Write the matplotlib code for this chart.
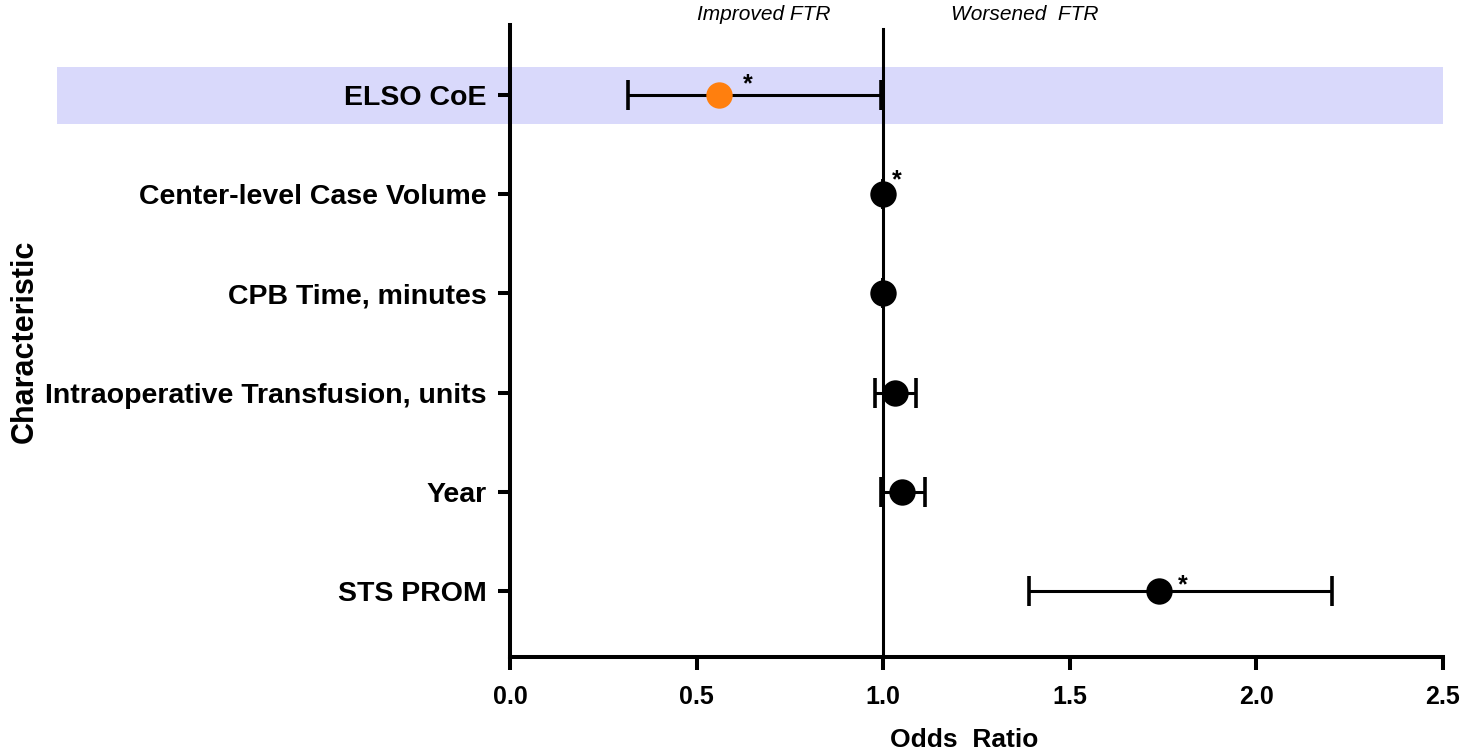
import matplotlib.pyplot as plt
from matplotlib.patches import Rectangle
from matplotlib.transforms import blended_transform_factory

plt.rcParams['font.family'] = ['Liberation Sans', 'DejaVu Sans']

# dados
characteristics = ['ELSO CoE', 'Center-level Case Volume', 'CPB Time, minutes',
                   'Intraoperative Transfusion, units', 'Year', 'STS PROM']
odds_ratio = [0.56, 1.0, 1.0, 1.032, 1.05, 1.74]
ci_low = [0.315, 1.0, 1.0, 0.979, 0.995, 1.391]
ci_high = [0.995, 1.0, 1.0, 1.088, 1.113, 2.204]
significant = [True, True, False, False, False, True]
point_colors = ['#ff7f0e', 'black', 'black', 'black', 'black', 'black']
star_offsets = [(21, 8), (10, 10), (0, 0), (0, 0), (0, 0), (17, 4)]

fig = plt.figure(figsize=(14.67, 7.56), dpi=100)
ax = fig.add_axes([0.3477, 0.131, 0.9836 - 0.3477, 0.836])
ax.set_zorder(1)

ypos = list(range(len(characteristics)))

# faixa de destaque para a primeira linha (estende-se ate os rotulos)
trans = blended_transform_factory(fig.transFigure, ax.transData)
band = Rectangle((0.0389, -0.285), 0.9836 - 0.0389, 0.575, transform=trans,
                 facecolor='#d9d9fb', edgecolor='none', zorder=-1, clip_on=False)
fig.patches.append(band)

# linha de referencia OR = 1
ax.plot([1, 1], [-0.67, 5.665], color='black', lw=2.2, zorder=2, clip_on=False)

for i, y in enumerate(ypos):
    ax.errorbar(odds_ratio[i], y, xerr=[[odds_ratio[i] - ci_low[i]], [ci_high[i] - odds_ratio[i]]],
                fmt='none', ecolor='black', elinewidth=2.2, capsize=11, capthick=2.6, zorder=3)
    ax.plot(odds_ratio[i], y, 'o', color=point_colors[i], markersize=19, mec='none', zorder=4)
    if significant[i]:
        ax.annotate('*', (odds_ratio[i], y), xytext=star_offsets[i], textcoords='offset points',
                    ha='center', va='center', fontsize=18, fontweight='bold', zorder=5)

ax.set_xlim(0, 2.5)
ax.set_ylim(5.665, -0.706)
ax.set_xticks([0.0, 0.5, 1.0, 1.5, 2.0, 2.5])
ax.set_xticklabels(['0.0', '0.5', '1.0', '1.5', '2.0', '2.5'], fontsize=18, fontweight='bold')
ax.set_yticks(ypos)
ax.set_yticklabels(characteristics, fontsize=20.5, fontweight='bold')

ax.patch.set_alpha(0)
for side in ['top', 'right']:
    ax.spines[side].set_visible(False)
for side in ['left', 'bottom']:
    ax.spines[side].set_linewidth(2.9)

ax.tick_params(axis='both', which='major', direction='out', length=9, width=2.9)
ax.tick_params(axis='x', pad=11)
ax.tick_params(axis='y', pad=8)

ax.set_xlabel('Odds  Ratio', fontsize=19, fontweight='bold')
ax.xaxis.set_label_coords((964 - 510) / (1443 - 510), -0.113)
fig.text(25 / 1467, 1 - 341 / 756, 'Characteristic', rotation=90, ha='center', va='center',
         fontsize=22, fontweight='bold')

fig.text(764 / 1467, 1 - 15 / 756, 'Improved FTR', ha='center', va='center',
         fontsize=15, style='italic')
fig.text(1025 / 1467, 1 - 15 / 756, 'Worsened  FTR', ha='center', va='center',
         fontsize=15, style='italic')

fig.savefig('out.png', dpi=100)
